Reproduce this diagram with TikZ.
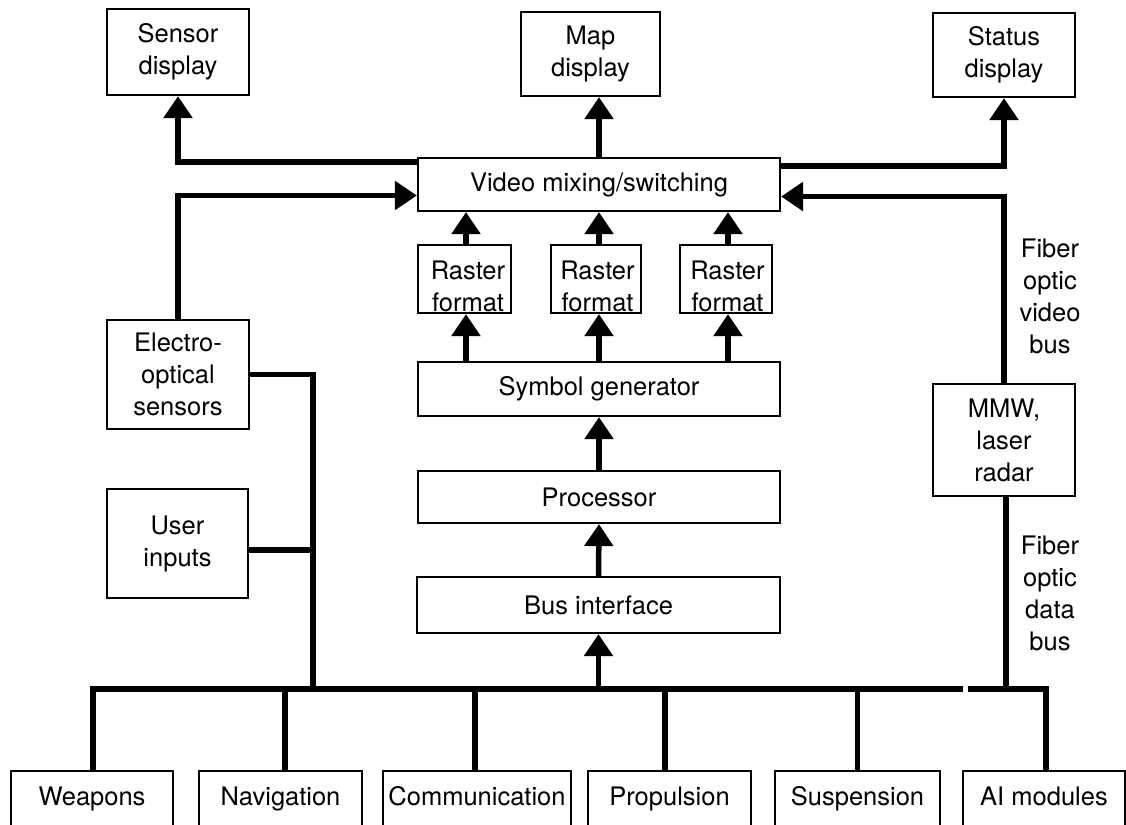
\documentclass[tikz,border=0pt]{standalone}
\usepackage{fontspec}
\setmainfont{TeX Gyre Heros}
\usetikzlibrary{arrows.meta}
\newcommand\dfont{\fontsize{25.5}{32}\selectfont}
\begin{document}
\begin{tikzpicture}[x=1pt,y=-1pt,
  box/.style={draw, line width=2.2pt, inner sep=0pt, align=center, font=\dfont},
  txt/.style={inner sep=0pt, align=center, font=\dfont},
  bot/.style={box, minimum height=58pt, text height=18.4pt, text depth=8.4pt},
  conn/.style={line width=5.5pt},
  arr/.style={conn, -{Triangle[width=28pt,length=22pt]}}]
\fill[white] (0,0) rectangle (1126,824);
\useasboundingbox (0,0) rectangle (1126,824);

% top displays
\node[box, minimum width=142pt, minimum height=86pt] (sd) at (178,52) {Sensor\\display};
\node[box, minimum width=139pt, minimum height=84pt] (md) at (590.5,54) {Map\\display};
\node[box, minimum width=142pt, minimum height=84pt] (st) at (1004,55) {Status\\display};

% central chain
\node[box, minimum width=362pt, minimum height=53pt] (vm) at (599,184.5) {Video mixing/switching};
\node[box, minimum width=93pt, minimum height=68pt] (r1) at (464.5,279) {};
\node[box, minimum width=90pt, minimum height=68pt] (r2) at (596,279) {};
\node[box, minimum width=92pt, minimum height=68pt] (r3) at (726,279) {};
\node[txt] (r1t) at (468,286) {Raster\\format};
\node[txt] (r2t) at (597.5,286) {Raster\\format};
\node[txt] (r3t) at (727.5,286) {Raster\\format};
\node[box, minimum width=362pt, minimum height=54pt] (sg) at (599,389) {Symbol generator};
\node[box, minimum width=362pt, minimum height=52pt] (pr) at (599,497) {Processor};
\node[box, minimum width=363pt, minimum height=56pt] (bi) at (598.5,605) {Bus interface};

% side boxes
\node[box, minimum width=142pt, minimum height=109pt] (eo) at (178,374.5) {Electro-\\optical\\sensors};
\node[box, minimum width=141pt, minimum height=109pt] (ui) at (177.5,543.5) {User\\inputs};
\node[box, minimum width=142pt, minimum height=112pt] (mmw) at (1004,440) {MMW,\\laser\\radar};

% bus labels
\node[txt] (fv) at (1050,296) {Fiber\\optic\\video\\bus};
\node[txt] (fd) at (1050,593) {Fiber\\optic\\data\\bus};

% bottom subsystems
\node[bot, minimum width=162pt] (we) at (92,800) {Weapons};
\node[bot, minimum width=163pt] (na) at (280.5,800) {Navigation};
\node[bot, minimum width=188pt] (co) at (477,800) {Communication};
\node[bot, minimum width=163pt] (pp) at (669.5,800) {Propulsion};
\node[bot, minimum width=165pt] (su) at (857.5,800) {Suspension};
\node[bot, minimum width=162pt] (ai) at (1044,800) {AI modules};

% junction coordinates
\coordinate (j) at (313,689);
\coordinate (uj) at (313,550);
\coordinate (be) at (963,689);
\coordinate (bs) at (968,689);
\coordinate (bb) at (598.5,689);

% video outputs
\draw[arr] ([yshift=-5pt]vm.north west) -| (sd.south);
\draw[arr] (vm.north) -- (vm.north |- md.south);
\draw[arr] ([yshift=-9pt]vm.north east) -| (st.south);
% video inputs
\draw[arr] (eo.north) |- ([yshift=-11pt]vm.west);
\draw[arr] (mmw.north) |- ([yshift=-12pt]vm.east);
\draw[arr] ([xshift=1.5pt]r1.north) -- ([xshift=1.5pt]r1.north |- vm.south);
\draw[arr] ([xshift=3pt]r2.north) -- ([xshift=3pt]r2.north |- vm.south);
\draw[arr] ([xshift=2pt]r3.north) -- ([xshift=2pt]r3.north |- vm.south);
\draw[arr] ([xshift=1.5pt]r1.south |- sg.north) -- ([xshift=1.5pt]r1.south);
\draw[arr] ([xshift=3pt]r2.south |- sg.north) -- ([xshift=3pt]r2.south);
\draw[arr] ([xshift=2pt]r3.south |- sg.north) -- ([xshift=2pt]r3.south);
\draw[arr] (pr.north) -- (sg.south);
\draw[arr] (bi.north) -- (pr.south);
\draw[arr] (bb) -- (bi.south);

% sensor and user connections to bus
\draw[conn] (eo.east) -| (j);
\draw[conn] (ui.east |- uj) -- (uj);

% data bus
\draw[conn] ([xshift=1pt]we.north) |- (be);
\draw[conn] ([xshift=4.5pt]na.north) -- ([xshift=4.5pt]na.north |- j);
\draw[conn] ([xshift=-2pt]co.north) -- ([xshift=-2pt]co.north |- j);
\draw[conn] ([xshift=-4.5pt]pp.north) -- ([xshift=-4.5pt]pp.north |- j);
\draw[conn] (su.north) -- (su.north |- j);
\draw[conn] (bs) -| ([xshift=2pt]ai.north);
\draw[conn] ([xshift=2pt]mmw.south) -- ([xshift=2pt]mmw.south |- bs);
\end{tikzpicture}
\end{document}
